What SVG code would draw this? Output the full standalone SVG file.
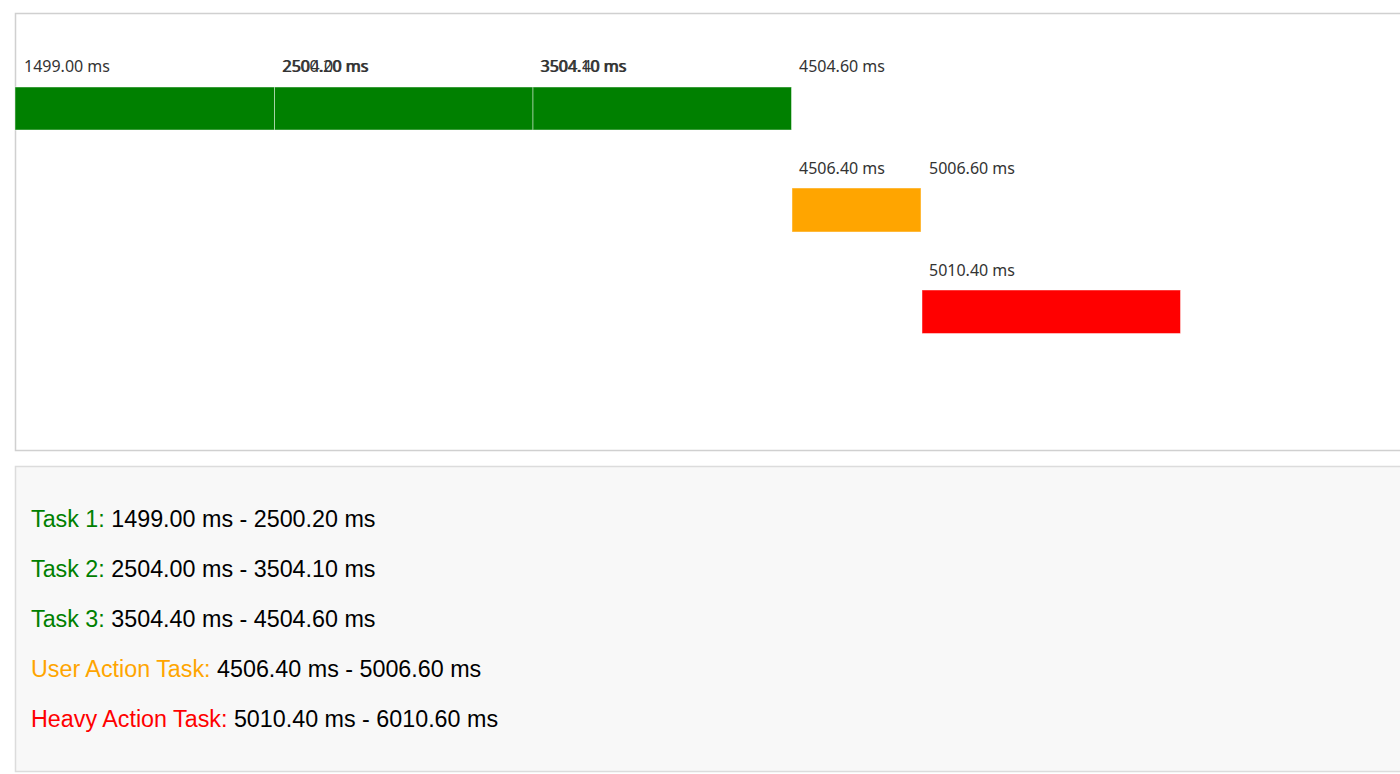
<svg xmlns="http://www.w3.org/2000/svg" width="1400" height="774" viewBox="0 0 1400 774">
<style>
.lbl{font-family:"Noto Sans","Liberation Sans",sans-serif;font-size:16px;fill:#333}
.leg{font-family:"Liberation Sans",Arial,sans-serif;font-size:23.3px;fill:#000}
.bar{stroke:#ffffff;stroke-opacity:0.45;stroke-width:1}
</style>
<rect width="1400" height="774" fill="#fff"/>
<g id="chart-panel">
<rect x="15.5" y="13.5" width="1400" height="437" fill="#fff" stroke="#d0d0d0" stroke-width="1.5"/>
</g>
<g id="task1">
<rect class="bar" x="15" y="87" width="259.5" height="43" fill="#008000"/>
<text class="lbl" x="24" y="72">1499.00 ms</text>
<text class="lbl" x="282" y="72">2500.20 ms</text>
</g>
<g id="task2">
<rect class="bar" x="274.5" y="87" width="258.5" height="43" fill="#008000"/>
<text class="lbl" x="283" y="72">2504.00 ms</text>
<text class="lbl" x="540" y="72">3504.10 ms</text>
</g>
<g id="task3">
<rect class="bar" x="533" y="87" width="258.5" height="43" fill="#008000"/>
<text class="lbl" x="541" y="72">3504.40 ms</text>
<text class="lbl" x="799" y="72">4504.60 ms</text>
</g>
<g id="user-action">
<rect class="bar" x="792" y="188" width="129" height="44" fill="#FFA500"/>
<text class="lbl" x="799" y="174">4506.40 ms</text>
<text class="lbl" x="929" y="174">5006.60 ms</text>
</g>
<g id="heavy-action">
<rect class="bar" x="922" y="290" width="258.5" height="43.5" fill="#FF0000"/>
<text class="lbl" x="929" y="276">5010.40 ms</text>
</g>
<g id="connectors"></g>
<g id="legend">
<rect x="15.5" y="466.5" width="1400" height="305" fill="#f8f8f8" stroke="#dcdcdc" stroke-width="1.5"/>
<text class="leg" x="31" y="527"><tspan fill="#008000">Task 1:</tspan> 1499.00 ms - 2500.20 ms</text>
<text class="leg" x="31" y="577"><tspan fill="#008000">Task 2:</tspan> 2504.00 ms - 3504.10 ms</text>
<text class="leg" x="31" y="627"><tspan fill="#008000">Task 3:</tspan> 3504.40 ms - 4504.60 ms</text>
<text class="leg" x="31" y="677"><tspan fill="#FFA500">User Action Task:</tspan> 4506.40 ms - 5006.60 ms</text>
<text class="leg" x="31" y="727"><tspan fill="#FF0000">Heavy Action Task:</tspan> 5010.40 ms - 6010.60 ms</text>
</g>
</svg>
